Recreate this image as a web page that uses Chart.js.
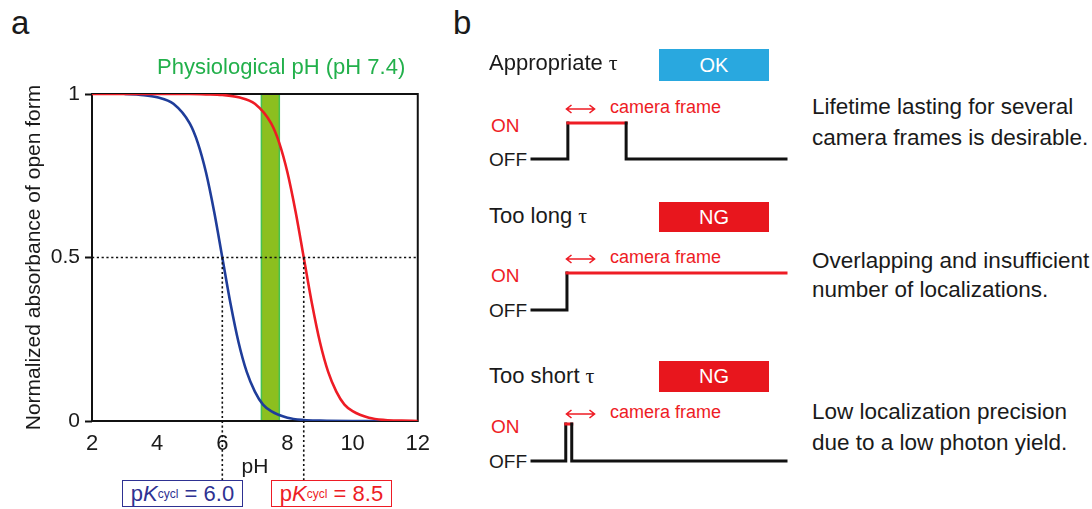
<!DOCTYPE html>
<html>
<head>
<meta charset="utf-8">
<title>pH dependence and switching lifetime</title>
<script src="https://cdn.jsdelivr.net/npm/chart.js@4.4.1/dist/chart.umd.min.js"></script>
<style>
  html, body { margin: 0; padding: 0; background: #fff; }
  #page { position: relative; width: 1092px; height: 509px; overflow: hidden;
          font-family: "Liberation Sans", Arial, Helvetica, sans-serif; color: #1a1a1a; }
  .t { position: absolute; white-space: nowrap; line-height: 1; transform: translateY(-50%); }
  .panel { font-size: 33px; }
  .pk { position: absolute; box-sizing: border-box; border: 1.5px solid; background: #fff;
        font-size: 22px; line-height: 1; display: flex; align-items: center; justify-content: center; white-space: nowrap; }
  .pk sub { font-size: 12px; vertical-align: -4px; }
  .badge { position: absolute; color: #fff; font-size: 20px; display: flex; align-items: center; justify-content: center; }
  .wave { position: absolute; }
  .tau { font-family: "Liberation Serif", "DejaVu Serif", serif; }
</style>
</head>
<body>
<div id="page">
  <div class="t panel" style="left:11px;top:22px;">a</div>
  <div class="t panel" style="left:453px;top:22px;">b</div>
  <div id="pane-a" style="position:absolute;left:0;top:0;width:440px;height:509px;"><canvas id="phChart"></canvas></div>
  <div class="t" style="left:157px;top:67px;font-size:22px;color:#22b04b;">Physiological pH (pH 7.4)</div>
</div>
<script>
// --- panel a : absorbance of the open form vs pH ---
const phBlue  = [3.0, 3.5, 4.0, 4.5, 5.0, 5.25, 5.5, 5.75, 6.0, 6.25, 6.5, 6.75, 7.0, 7.25, 7.5, 8.0, 8.5, 9.0, 10.0, 11.0];
const absBlue = [1.00, 0.997, 0.99, 0.97, 0.91, 0.85, 0.76, 0.64, 0.50, 0.36, 0.24, 0.15, 0.09, 0.05, 0.03, 0.01, 0.003, 0.001, 0, 0];

const phRed  = [2.0, 4.0, 5.0, 5.5, 6.0, 6.5, 7.0, 7.5, 7.75, 8.0, 8.25, 8.5, 8.75, 9.0, 9.25, 9.5, 9.75, 10.0, 10.5, 11.0, 11.5, 12.0];
const absRed = [1.00, 1.00, 1.00, 0.999, 0.997, 0.99, 0.97, 0.91, 0.85, 0.76, 0.64, 0.50, 0.36, 0.24, 0.15, 0.09, 0.05, 0.03, 0.01, 0.003, 0.001, 0];

const pKcycl = [6.0, 8.5];           // blue, red
const physioBand = [7.2, 7.75];      // shaded pH window
const xTicks = [2, 4, 6, 8, 10, 12];
const yTicks = [0, 0.5, 1];

// --- panel b : on/off switching traces (time in camera frames) ---
const waveNames = ['Appropriate', 'Too long', 'Too short'];
const waveVerdicts = ['OK', 'NG', 'NG'];
const waveTimes = [
  [0, 1.2, 1.2, 3.15, 3.15, 8.5],
  [0, 1.17, 1.17, 8.5],
  [0, 1.13, 1.13, 1.33, 1.33, 8.5]
];
const waveStates = [
  [0, 0, 1, 1, 0, 0],
  [0, 0, 1, 1],
  [0, 0, 1, 1, 0, 0]
];
const waveNotes = [
  ['Lifetime lasting for several', 'camera frames is desirable.'],
  ['Overlapping and insufficient', 'number of localizations.'],
  ['Low localization precision', 'due to a low photon yield.']
];

const FONT = '"Liberation Sans", Arial, Helvetica, sans-serif';
const INK = '#1a1a1a';
const BLUE = '#1f3d9a';
const RED = '#ee1c25';
const BOX_BLUE = '#2e3192';
Chart.defaults.font.family = FONT;
Chart.defaults.color = INK;

const toPoints = (xs, ys) => xs.map((x, i) => ({ x: x, y: ys[i] }));

// band, frame and dotted guide lines
const panelDecor = {
  id: 'panelDecor',
  beforeDatasetsDraw(chart) {
    const { ctx, chartArea: a, scales: { x, y } } = chart;
    ctx.save();
    const bx0 = x.getPixelForValue(physioBand[0]);
    const bx1 = x.getPixelForValue(physioBand[1]);
    const by0 = y.getPixelForValue(1);
    const by1 = y.getPixelForValue(0);
    ctx.fillStyle = '#8cbf1f';
    ctx.fillRect(bx0, by0, bx1 - bx0, by1 - by0);
    ctx.strokeStyle = '#45c153';
    ctx.lineWidth = 1.5;
    ctx.strokeRect(bx0, by0, bx1 - bx0, by1 - by0);

    ctx.strokeStyle = '#111';
    ctx.lineWidth = 2;
    ctx.strokeRect(a.left, a.top, a.width, a.height);
    ctx.restore();
  },
  afterDatasetsDraw(chart) {
    const { ctx, chartArea: a, scales: { x, y } } = chart;
    const yHalf = y.getPixelForValue(0.5);
    ctx.save();
    ctx.strokeStyle = '#111';
    ctx.lineWidth = 1.6;
    ctx.setLineDash([2.2, 2.6]);
    ctx.beginPath();
    ctx.moveTo(a.left, yHalf);
    ctx.lineTo(a.right, yHalf);
    pKcycl.forEach(pk => {
      const px = x.getPixelForValue(pk);
      ctx.moveTo(px, yHalf);
      ctx.lineTo(px, 480);   // down to the label boxes
    });
    ctx.stroke();
    ctx.restore();
  }
};

new Chart(document.getElementById('phChart'), {
  type: 'line',
  data: {
    datasets: [
      { data: toPoints(phRed, absRed), borderColor: RED, borderWidth: 2.6, pointRadius: 0,
        cubicInterpolationMode: 'monotone', order: 0 },
      { data: toPoints(phBlue, absBlue), borderColor: BLUE, borderWidth: 2.6, pointRadius: 0,
        cubicInterpolationMode: 'monotone', order: 1 }
    ]
  },
  options: {
    responsive: true,
    maintainAspectRatio: false,
    animation: false,
    events: [],
    layout: { padding: { left: 0, top: 94, right: 21, bottom: 0 } },
    plugins: { legend: { display: false }, tooltip: { enabled: false } },
    scales: {
      x: {
        type: 'linear', min: 2, max: 12,
        afterBuildTicks: s => { s.ticks = xTicks.map(v => ({ value: v })); },
        ticks: { color: INK, font: { size: 22 }, padding: 10, maxRotation: 0, autoSkip: false,
                 callback: v => String(v) },
        grid: { display: false, drawTicks: false },
        border: { display: false },
        title: { display: true, text: 'pH', color: INK, font: { size: 21 }, padding: { top: 0, bottom: 29 } },
        afterFit: s => { s.height = 88; }
      },
      y: {
        type: 'linear', min: 0, max: 1,
        afterBuildTicks: s => { s.ticks = yTicks.map(v => ({ value: v })); },
        ticks: { color: INK, font: { size: 21 }, padding: 5, callback: v => String(v) },
        grid: { drawOnChartArea: false, drawTicks: true, tickLength: 7, tickColor: '#111', tickWidth: 2 },
        border: { display: false },
        title: { display: true, text: 'Normalized absorbance of open form', color: INK, font: { size: 21 },
                 padding: { top: 22, bottom: 0 } },
        afterFit: s => { s.width = 92; }
      }
    }
  },
  plugins: [panelDecor]
});

// pK labels under the axis
const page = document.getElementById('page');
const pkBoxes = [
  { left: 122, width: 121, color: BOX_BLUE },
  { left: 271, width: 121, color: RED }
];
pKcycl.forEach((pk, i) => {
  const b = pkBoxes[i];
  const el = document.createElement('div');
  el.className = 'pk';
  el.style.cssText = `left:${b.left}px;top:480px;width:${b.width}px;height:27px;color:${b.color};border-color:${b.color};`;
  el.innerHTML = `p<i>K</i><sub>cycl</sub>&nbsp;= ${pk.toFixed(1)}`;
  page.appendChild(el);
});

// --- panel b layout ---
const rowLayout = [
  { labelY: 63,  badgeTop: 49,  badgeH: 32, frameY: 107, onY: 123, offY: 159, noteY: [107, 138] },
  { labelY: 216, badgeTop: 202, badgeH: 30, frameY: 257, onY: 273, offY: 310, noteY: [261, 290] },
  { labelY: 376, badgeTop: 361, badgeH: 31, frameY: 412, onY: 424, offY: 461, noteY: [412, 443] }
];
const verdictColor = { OK: '#29a8df', NG: '#e8161d' };

function addText(html, left, top, css) {
  const el = document.createElement('div');
  el.className = 't';
  el.style.cssText = `left:${left}px;top:${top}px;${css || ''}`;
  el.innerHTML = html;
  page.appendChild(el);
  return el;
}

waveNames.forEach((name, i) => {
  const r = rowLayout[i];
  addText(`${name} <span class="tau">&tau;</span>`, 489, r.labelY, 'font-size:22px;');

  const badge = document.createElement('div');
  badge.className = 'badge';
  badge.style.cssText = `left:659px;top:${r.badgeTop}px;width:110px;height:${r.badgeH}px;background:${verdictColor[waveVerdicts[i]]};`;
  badge.textContent = waveVerdicts[i];
  page.appendChild(badge);

  // camera-frame scale arrow
  addText('<svg width="31" height="11" viewBox="0 0 31 11"><path d="M1 5.5H30M6.5 1.5L1.5 5.5L6.5 9.5M24.5 1.5L29.5 5.5L24.5 9.5" fill="none" stroke="' + RED + '" stroke-width="1.6"/></svg>',
          565, r.frameY, 'height:11px;');
  addText('camera frame', 610, r.frameY, `font-size:18px;color:${RED};`);
  addText('ON', 491, r.onY + 2, `font-size:19px;color:${RED};`);
  addText('OFF', 489, r.offY, 'font-size:19px;');

  waveNotes[i].forEach((line, k) => addText(line, 812, r.noteY[k], 'font-size:22.5px;'));

  // on/off trace
  const box = document.createElement('div');
  box.className = 'wave';
  box.style.cssText = `left:529px;top:${r.onY - 3}px;width:260px;height:${r.offY - r.onY + 6}px;`;
  const cv = document.createElement('canvas');
  box.appendChild(cv);
  page.appendChild(box);

  new Chart(cv, {
    type: 'line',
    data: {
      datasets: [{
        data: toPoints(waveTimes[i], waveStates[i]),
        borderColor: '#111',
        borderWidth: 3,
        borderCapStyle: 'square',
        borderJoinStyle: 'miter',
        pointRadius: 0,
        tension: 0,
        clip: false,
        segment: {
          borderColor: c => (c.p0.parsed.y === 1 && c.p1.parsed.y === 1) ? RED : undefined
        }
      }]
    },
    options: {
      responsive: true,
      maintainAspectRatio: false,
      animation: false,
      events: [],
      layout: { padding: 3 },
      plugins: { legend: { display: false }, tooltip: { enabled: false } },
      scales: {
        x: { type: 'linear', min: 0, max: 8.5, display: false },
        y: { type: 'linear', min: 0, max: 1, display: false }
      }
    }
  });
});
</script>
</body>
</html>
